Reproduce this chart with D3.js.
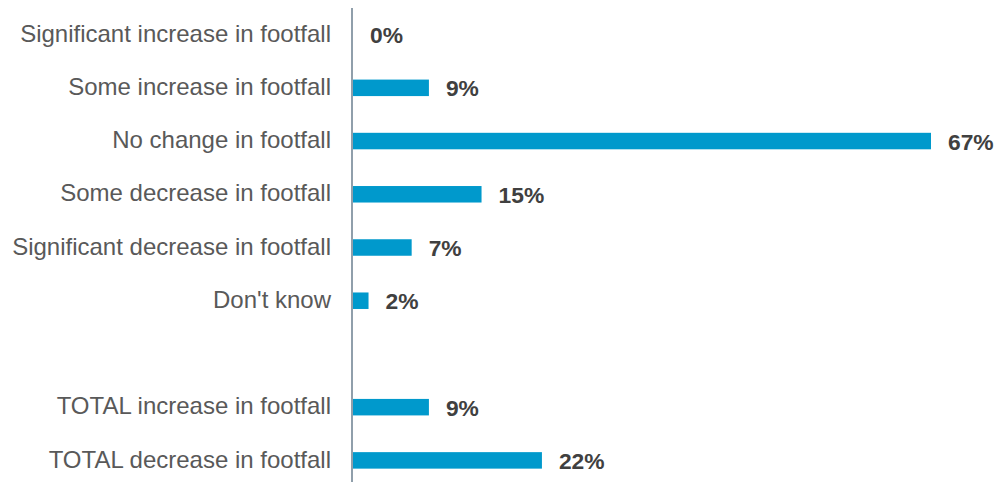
<!DOCTYPE html>
<html>
<head>
<meta charset="utf-8">
<script src="https://cdn.jsdelivr.net/npm/d3@7"></script>
<style>
  body { margin: 0; background: #fff; }
  svg { display: block; }
</style>
</head>
<body>
<div id="chart"></div>
<script>
// Data
var categories = [
  "Significant increase in footfall",
  "Some increase in footfall",
  "No change in footfall",
  "Some decrease in footfall",
  "Significant decrease in footfall",
  "Don't know",
  "",
  "TOTAL increase in footfall",
  "TOTAL decrease in footfall"
];
var values = [0, 8.8, 67, 14.9, 6.8, 1.8, null, 8.8, 21.9];
var valueLabels = ["0%", "9%", "67%", "15%", "7%", "2%", "", "9%", "22%"];

var width = 1004, height = 482;
var margin = {top: 8, right: 73, bottom: -5, left: 352};

var svg = d3.select('#chart')
  .append('svg')
    .attr('width', width)
    .attr('height', height);

var data = categories.map(function(c, i) {
  return {key: i, label: c, value: values[i], text: valueLabels[i]};
});

// Scales
var y = d3.scaleBand()
  .domain(data.map(d => d.key))
  .range([margin.top, height - margin.bottom])
  .paddingInner(0.69)
  .paddingOuter(0.345);

var x = d3.scaleLinear()
  .domain([0, 67])
  .range([margin.left + 1, width - margin.right]);

// Bars
svg.append("g")
  .selectAll("rect")
  .data(data.filter(d => d.value !== null))
  .join("rect")
    .attr("x", x(0))
    .attr("y", d => y(d.key))
    .attr("width", d => x(d.value) - x(0))
    .attr("height", y.bandwidth())
    .attr("fill", "#0099cc");

// Value labels
svg.append("g")
  .selectAll("text")
  .data(data.filter(d => d.value !== null))
  .join("text")
    .attr("x", d => x(d.value) + 17)
    .attr("y", d => y(d.key) + y.bandwidth() / 2)
    .attr("dy", "0.38em")
    .style("font-family", "Liberation Sans, Arial, sans-serif")
    .style("font-size", "22.8px")
    .style("font-weight", "bold")
    .attr("fill", "#404040")
    .text(d => d.text);

// Y axis (category labels)
var yAxis = svg.append("g")
  .attr("transform", `translate(${margin.left},0)`)
  .call(d3.axisLeft(y)
    .tickSize(0)
    .tickPadding(21)
    .tickFormat(i => categories[i]));

yAxis.select(".domain").remove();
yAxis.selectAll("text")
  .attr("dy", "0.3em")
  .style("font-family", "Liberation Sans, Arial, sans-serif")
  .style("font-size", "24px")
  .attr("fill", "#595959");

// Vertical axis line
svg.append("line")
  .attr("x1", margin.left)
  .attr("x2", margin.left)
  .attr("y1", margin.top)
  .attr("y2", height)
  .attr("stroke", "#6b7f8f")
  .attr("stroke-width", 1.5);
</script>
</body>
</html>
